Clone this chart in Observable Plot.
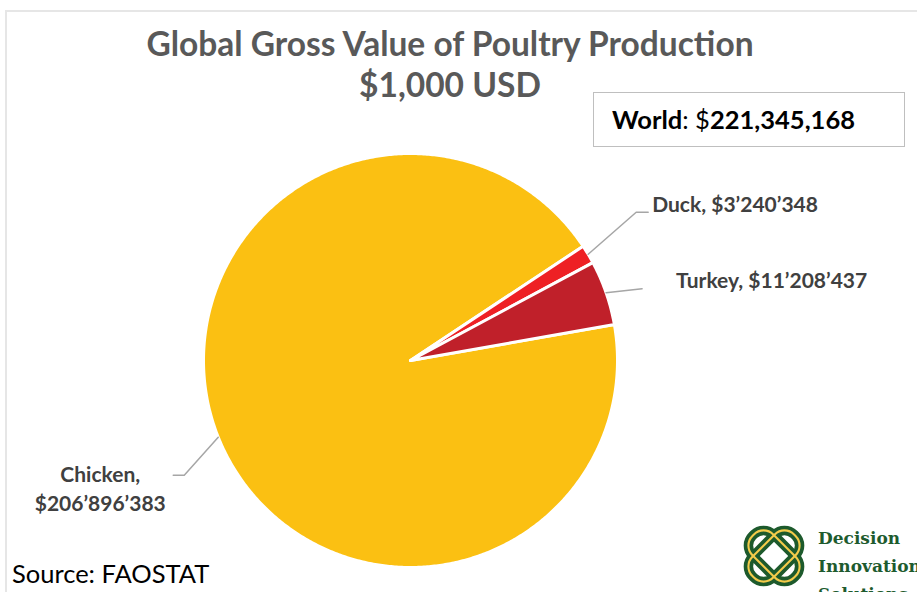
<!DOCTYPE html>
<html>
<head>
<meta charset="utf-8">
<script src="https://cdn.jsdelivr.net/npm/d3@7"></script>
<script src="https://cdn.jsdelivr.net/npm/@observablehq/plot@0.6"></script>
<style>
  html, body { margin: 0; padding: 0; background: #fff; }
  #wrap { position: relative; width: 917px; height: 592px; overflow: hidden; font-family: Lato, "Open Sans", sans-serif; }
  #frame { position: absolute; left: 5px; top: 10px; width: 940px; height: 600px; border-left: 2px solid #E6E6E6; border-top: 2px solid #E6E6E6; }
  #chart { position: absolute; left: 0; top: 0; }
  #title { position: absolute; left: 0; width: 900px; top: 23px; text-align: center; color: #595959; font-weight: 700; font-size: 33.5px; line-height: 41px; }
  #world { position: absolute; left: 593px; top: 92px; width: 312px; height: 55px; border: 1px solid #BFBFBF; background: #fff; box-sizing: border-box; font-size: 25.5px; color: #000; line-height: 53px; padding-left: 18px; }
  #source { position: absolute; left: 12px; top: 558px; font-size: 25.5px; color: #000; }
  #logo { position: absolute; left: 734px; top: 516px; }
  #logotext { position: absolute; left: 818px; top: 524px; font-family: "DejaVu Serif", "Liberation Serif", serif; font-weight: 700; font-size: 17px; line-height: 28px; color: #1E5B2E; white-space: nowrap; }
</style>
</head>
<body>
<div id="wrap">
  <div id="frame"></div>
  <div id="chart"></div>
  <div id="title">Global Gross Value of Poultry Production<br>$1,000 USD</div>
  <div id="world"><b>World</b>: $<b>221,345,168</b></div>
  <div id="source">Source: FAOSTAT</div>
  <svg id="logo" width="80" height="80" viewBox="0 0 76 76">
    <g fill="none" stroke-linejoin="round">
      <rect x="10" y="24" width="56" height="28" rx="13" transform="rotate(45 38 38)" stroke="#1D5A2C" stroke-width="9"/>
      <rect x="10" y="24" width="56" height="28" rx="13" transform="rotate(-45 38 38)" stroke="#1D5A2C" stroke-width="9"/>
      <rect x="10" y="24" width="56" height="28" rx="13" transform="rotate(45 38 38)" stroke="#F3CB4A" stroke-width="2"/>
      <rect x="10" y="24" width="56" height="28" rx="13" transform="rotate(-45 38 38)" stroke="#F3CB4A" stroke-width="2"/>
    </g>
  </svg>
  <div id="logotext">Decision<br>Innovation<br>Solutions</div>
</div>
<script>
// ---- data ----
const categories = ["Chicken", "Duck", "Turkey"];
const values = [206896383, 3240348, 11208437];
const valueLabels = ["$206\u2019896\u2019383", "$3\u2019240\u2019348", "$11\u2019208\u2019437"];
const colors = ["#FBC012", "#EE2024", "#C0202A"];

// ---- layout ----
const W = 917, H = 592;
const cx = 410, cy = 360, R = 207;
const startDeg = 80; // first slice angle, clockwise from 12 o'clock

const total = d3.sum(values);
const toRad = Math.PI / 180;
const slices = [];
let a = startDeg;
values.forEach((v, i) => {
  const span = v / total * 360;
  slices.push({name: categories[i], a0: a, a1: a + span, mid: a + span / 2, color: colors[i], label: valueLabels[i]});
  a += span;
});

function slicePoints(s) {
  const pts = [{u: 0, v: 0}];
  const n = Math.max(2, Math.ceil((s.a1 - s.a0) / 0.5));
  for (let k = 0; k <= n; k++) {
    const t = (s.a0 + (s.a1 - s.a0) * k / n) * toRad;
    pts.push({u: Math.sin(t), v: Math.cos(t)});
  }
  return pts;
}
const onCircle = (deg, r = 1) => ({u: r * Math.sin(deg * toRad), v: r * Math.cos(deg * toRad)});
const shift = (p, dxp, dyp) => ({u: p.u + dxp / R, v: p.v - dyp / R});

// label leader geometry (pixel offsets from the slice's mid-point on the rim)
const leaderSpec = {
  Chicken: {elbow: [-34, 38], end: [-45, 38], text: [-118, 50]},
  Duck:    {elbow: [48, -42], end: [60, -42], text: [64, -49]},
  Turkey:  {elbow: [36, -4],  end: [36, -4],  text: [70, -11]}
};

const marks = [];
slices.forEach(s => {
  marks.push(Plot.line(slicePoints(s), {
    x: "u", y: "v", fill: s.color, stroke: "white", strokeWidth: 3,
    strokeLinejoin: "round", curve: "linear-closed"
  }));
});
const leaderData = [];
const labelData = [];
slices.forEach(s => {
  const spec = leaderSpec[s.name];
  const p0 = onCircle(s.mid);
  const p1 = shift(p0, spec.elbow[0], spec.elbow[1]);
  const p2 = shift(p0, spec.end[0], spec.end[1]);
  leaderData.push({...p0, name: s.name}, {...p1, name: s.name}, {...p2, name: s.name});
  const t = shift(p0, spec.text[0], spec.text[1]);
  const txt = s.name === "Chicken" ? `${s.name},\n${s.label}` : `${s.name}, ${s.label}`;
  labelData.push({...t, txt, name: s.name});
});

marks.push(Plot.line(leaderData, {x: "u", y: "v", z: "name", stroke: "#A6A6A6", strokeWidth: 1.5}));
marks.push(Plot.text(labelData.filter(d => d.name !== "Chicken"), {
  x: "u", y: "v", text: "txt", textAnchor: "start", fontSize: 21, fontWeight: 700, fill: "#404040",
  fontFamily: "Lato, sans-serif"
}));
marks.push(Plot.text(labelData.filter(d => d.name === "Chicken"), {
  x: "u", y: "v", text: "txt", textAnchor: "middle", fontSize: 21, fontWeight: 700, fill: "#404040",
  fontFamily: "Lato, sans-serif", lineHeight: 1.38
}));

const chart = Plot.plot({
  width: W, height: H,
  margin: 0,
  x: {domain: [-cx / R, (W - cx) / R], axis: null},
  y: {domain: [-(H - cy) / R, cy / R], axis: null},
  style: {background: "transparent", overflow: "visible"},
  marks
});
document.getElementById("chart").appendChild(chart);
</script>
</body>
</html>
